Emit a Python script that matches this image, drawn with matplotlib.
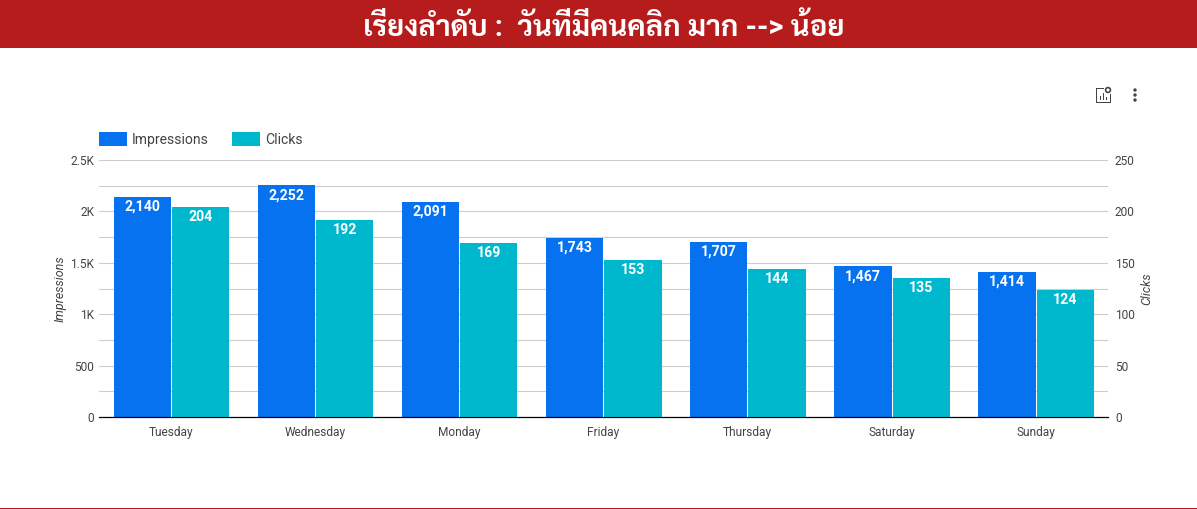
import matplotlib
matplotlib.use("Agg")
import matplotlib.pyplot as plt
from matplotlib.patches import Rectangle, Circle
from matplotlib.ticker import MultipleLocator

W, H = 1197, 509

days = ["Tuesday", "Wednesday", "Monday", "Friday", "Thursday", "Saturday", "Sunday"]
impressions = [2140, 2252, 2091, 1743, 1707, 1467, 1414]
clicks = [204, 192, 169, 153, 144, 135, 124]
left_ticks = [0, 500, 1000, 1500, 2000, 2500]
left_labels = ["0", "500", "1K", "1.5K", "2K", "2.5K"]
right_ticks = [0, 50, 100, 150, 200, 250]
title = "เรียงลำดับ :  วันที่มีคนคลิก มาก --> น้อย"

BLUE = "#0672EF"
TEAL = "#00B8CE"
RED = "#B71C1C"
GREY = "#444444"

plt.rcParams["font.family"] = ["Roboto", "Sarabun", "Noto Sans Thai", "Anuphan", "DejaVu Sans"]

fig = plt.figure(figsize=(W / 100, H / 100), dpi=100)


def px(x, y):
    # pixel from top-left -> figure fraction
    return x / W, 1 - y / H


def box(x0, y0, x1, y1, color):
    fig.add_artist(Rectangle((x0 / W, 1 - y1 / H), (x1 - x0) / W, (y1 - y0) / H,
                             transform=fig.transFigure, fc=color, ec="none"))


# header + bottom rule
box(0, 0, W, 48, RED)
box(0, 508, W, 509, RED)
fig.text(*px(604, 28), title, color="white", fontsize=21, fontweight="bold",
         ha="center", va="center")

# axes
ax = fig.add_axes([99 / W, 1 - 417 / H, (1108 - 99) / W, (417 - 160) / H])
ax2 = ax.twinx()
ax.set_zorder(ax2.get_zorder() - 1)
ax2.patch.set_visible(False)

xs = list(range(len(days)))
bw = 0.397
ax.bar([x - 0.2 for x in xs], impressions, width=bw, color=BLUE, zorder=3)
ax2.bar([x + 0.204 for x in xs], clicks, width=bw, color=TEAL, zorder=3)

ax.set_xlim(-0.5, 6.5)
ax.set_ylim(0, 2500)
ax2.set_ylim(0, 250)

ax.set_yticks(left_ticks, left_labels)
ax.yaxis.set_minor_locator(MultipleLocator(250))
ax.grid(axis="y", which="both", color="#CCCCCC", lw=0.8, zorder=0)
ax.tick_params(axis="y", which="both", length=0, pad=3.5, labelsize=8.6, labelcolor=GREY)
ax.set_xticks(xs, days)
ax.tick_params(axis="x", length=0, pad=6.3, labelsize=8.6, labelcolor=GREY)

ax2.set_yticks(right_ticks)
ax2.tick_params(axis="y", length=0, pad=5, labelsize=8.6, labelcolor=GREY)

for a in (ax, ax2):
    for s in ["top", "left", "right"]:
        a.spines[s].set_visible(False)
    a.spines["bottom"].set_color("black")
    a.spines["bottom"].set_linewidth(0.8)
    a.spines["bottom"].set_zorder(5)

# data labels
for x, v in zip(xs, impressions):
    ax.annotate(f"{v:,}", (x - 0.2, v), xytext=(0, -7.2), textcoords="offset points",
                ha="center", va="center", color="white", fontsize=10.2, fontweight="bold", zorder=4)
for x, v in zip(xs, clicks):
    ax2.annotate(f"{v:,}", (x + 0.204, v), xytext=(0, -7.2), textcoords="offset points",
                 ha="center", va="center", color="white", fontsize=10.2, fontweight="bold", zorder=4)

# axis titles
fig.text(*px(60, 289), "Impressions", rotation=90, style="italic", fontsize=9,
         color=GREY, ha="center", va="center")
fig.text(*px(1147, 289), "Clicks", rotation=90, style="italic", fontsize=9,
         color=GREY, ha="center", va="center")

# legend
box(99, 132, 127, 146, BLUE)
fig.text(*px(132, 140), "Impressions", fontsize=10.1, color=GREY, ha="left", va="center")
box(232, 132, 260, 146, TEAL)
fig.text(*px(265, 140), "Clicks", fontsize=10.1, color=GREY, ha="left", va="center")

# toolbar icons
for yy in (90, 95, 100):
    fig.add_artist(Circle((1135, H - yy), 1.7, transform=None, fc=GREY, ec="none"))
for x0, y0, x1, y1 in [(1096, 88, 1097.3, 103), (1096, 101.7, 1111, 103), (1109.7, 94, 1111, 103),
                       (1096, 88, 1104, 89.3), (1099.5, 96, 1101, 100), (1102.5, 93, 1104, 100),
                       (1105.5, 97, 1107, 100)]:
    box(x0, y0, x1, y1, GREY)
fig.add_artist(Circle((1108, H - 90), 2.4, transform=None, fc="white", ec=GREY, lw=1.2))

fig.savefig("out.png", dpi=100)
